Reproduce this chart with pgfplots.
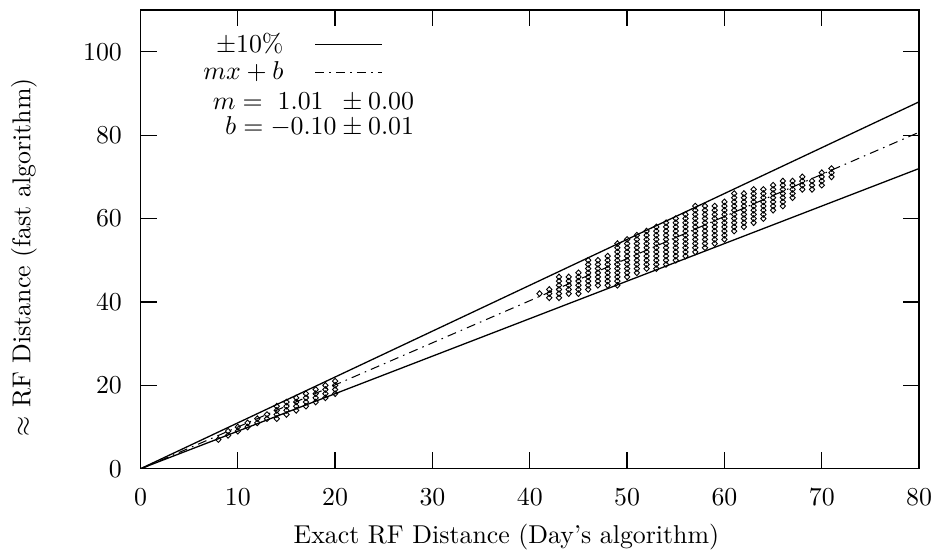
\documentclass[border=0pt]{standalone}
\usepackage{pgfplots}
\pgfplotsset{compat=1.18}
\begin{document}
\begin{tikzpicture}
\begin{axis}[
  scale only axis, width=301.5pt, height=177.6pt,
  xmin=0, xmax=80, ymin=0, ymax=110,
  xtick={0,10,...,80}, ytick={0,20,...,100},
  tick align=inside, tick pos=both, major tick length=6.3pt,
  xticklabel style={inner sep=0pt}, xticklabel shift=7.5pt,
  yticklabel style={inner sep=0pt}, yticklabel shift=7pt,
  xlabel={Exact RF Distance (Day's algorithm)},
  ylabel={$\approx$ RF Distance (fast algorithm)},
  xlabel style={at={(axis description cs:0.47,-0.15)}, anchor=center, inner sep=0pt},
  ylabel style={at={(axis description cs:-0.1496,0.461)}, anchor=center, inner sep=4.3pt},
  legend style={at={(rel axis cs:0.322,0.974)}, anchor=north east, draw=none, fill=none,
    row sep=-2pt, column sep=10pt, nodes={inner sep=2pt}},
  legend cell align=right, legend plot pos=right,
  legend image code/.code={\draw[#1] (0pt,0pt) -- (26pt,0pt);},
  axis line style={line width=0.5pt},
  every tick/.style={black, line width=0.5pt},
]
% +/- 10% band
\addplot[black, line width=0.5pt] coordinates {(0,0) (80,88)};
\addlegendentry{$\pm10\%$}
\addplot[black, line width=0.5pt, forget plot] coordinates {(0,0) (80,72)};
% fit line y = 1.01x - 0.10
\addplot[black, line width=0.4pt, dash pattern=on 3.5pt off 2pt on 0.6pt off 2pt] coordinates {(0,-0.1) (80,80.7)};
\addlegendentry{$mx+b$}
% samples
\addplot[black, only marks, mark=diamond, mark size=1.1pt, forget plot,
  mark options={xscale=1.25, line width=0.35pt}] coordinates {
(8,7)
(9,8) (9,9)
(10,9) (10,10)
(11,10) (11,11)
(12,11) (12,12)
(13,12) (13,13)
(14,12) (14,13) (14,14) (14,15)
(15,13) (15,14) (15,15) (15,16)
(16,14) (16,15) (16,16) (16,17)
(17,15) (17,16) (17,17) (17,18)
(18,16) (18,17) (18,18) (18,19)
(19,17) (19,18) (19,19) (19,20)
(20,18) (20,19) (20,20) (20,21)
(41,42)
(42,41) (42,42) (42,43)
(43,41) (43,42) (43,43) (43,44) (43,45) (43,46)
(44,42) (44,43) (44,44) (44,45) (44,46)
(45,42) (45,43) (45,44) (45,45) (45,46) (45,47)
(46,43) (46,44) (46,45) (46,46) (46,47) (46,48) (46,49) (46,50)
(47,44) (47,45) (47,46) (47,47) (47,48) (47,49) (47,50)
(48,44) (48,45) (48,46) (48,47) (48,48) (48,49) (48,50) (48,51)
(49,44) (49,45) (49,46) (49,47) (49,48) (49,49) (49,50) (49,51) (49,52) (49,53) (49,54)
(50,46) (50,47) (50,48) (50,49) (50,50) (50,51) (50,52) (50,53) (50,54) (50,55)
(51,47) (51,48) (51,49) (51,50) (51,51) (51,52) (51,53) (51,54) (51,55) (51,56)
(52,48) (52,49) (52,50) (52,51) (52,52) (52,53) (52,54) (52,55) (52,56) (52,57)
(53,48) (53,49) (53,50) (53,51) (53,52) (53,53) (53,54) (53,55) (53,56) (53,57) (53,58)
(54,49) (54,50) (54,51) (54,52) (54,53) (54,54) (54,55) (54,56) (54,57) (54,58) (54,59)
(55,50) (55,51) (55,52) (55,53) (55,54) (55,55) (55,56) (55,57) (55,58) (55,59) (55,60)
(56,51) (56,52) (56,53) (56,54) (56,55) (56,56) (56,57) (56,58) (56,59) (56,60) (56,61)
(57,52) (57,53) (57,54) (57,55) (57,56) (57,57) (57,58) (57,59) (57,60) (57,61) (57,62) (57,63)
(58,53) (58,54) (58,55) (58,56) (58,57) (58,58) (58,59) (58,60) (58,61) (58,62) (58,63)
(59,54) (59,55) (59,56) (59,57) (59,58) (59,59) (59,60) (59,61) (59,62) (59,63)
(60,55) (60,56) (60,57) (60,58) (60,59) (60,60) (60,61) (60,62) (60,63) (60,64)
(61,57) (61,58) (61,59) (61,60) (61,61) (61,62) (61,63) (61,64) (61,65) (61,66)
(62,58) (62,59) (62,60) (62,61) (62,62) (62,63) (62,64) (62,65) (62,66)
(63,59) (63,60) (63,61) (63,62) (63,63) (63,64) (63,65) (63,66) (63,67)
(64,60) (64,61) (64,62) (64,63) (64,64) (64,65) (64,66) (64,67)
(65,62) (65,63) (65,64) (65,65) (65,66) (65,67) (65,68)
(66,63) (66,64) (66,65) (66,66) (66,67) (66,68) (66,69)
(67,65) (67,66) (67,67) (67,68) (67,69)
(68,67) (68,68) (68,69) (68,70)
(69,67) (69,68) (69,69)
(70,68) (70,69) (70,70) (70,71)
(71,70) (71,71) (71,72)
};
\node[anchor=east, inner sep=0pt] at (rel axis cs:0.352,0.800) {$m = \hspace{3pt}1.01\hspace{5pt}\pm 0.00$};
\node[anchor=east, inner sep=0pt] at (rel axis cs:0.352,0.746) {$b = -0.10 \pm 0.01$};
\end{axis}
\path ([yshift=3.9pt]current axis.north) ([yshift=-33.2pt]current axis.south);
\end{tikzpicture}
\end{document}
